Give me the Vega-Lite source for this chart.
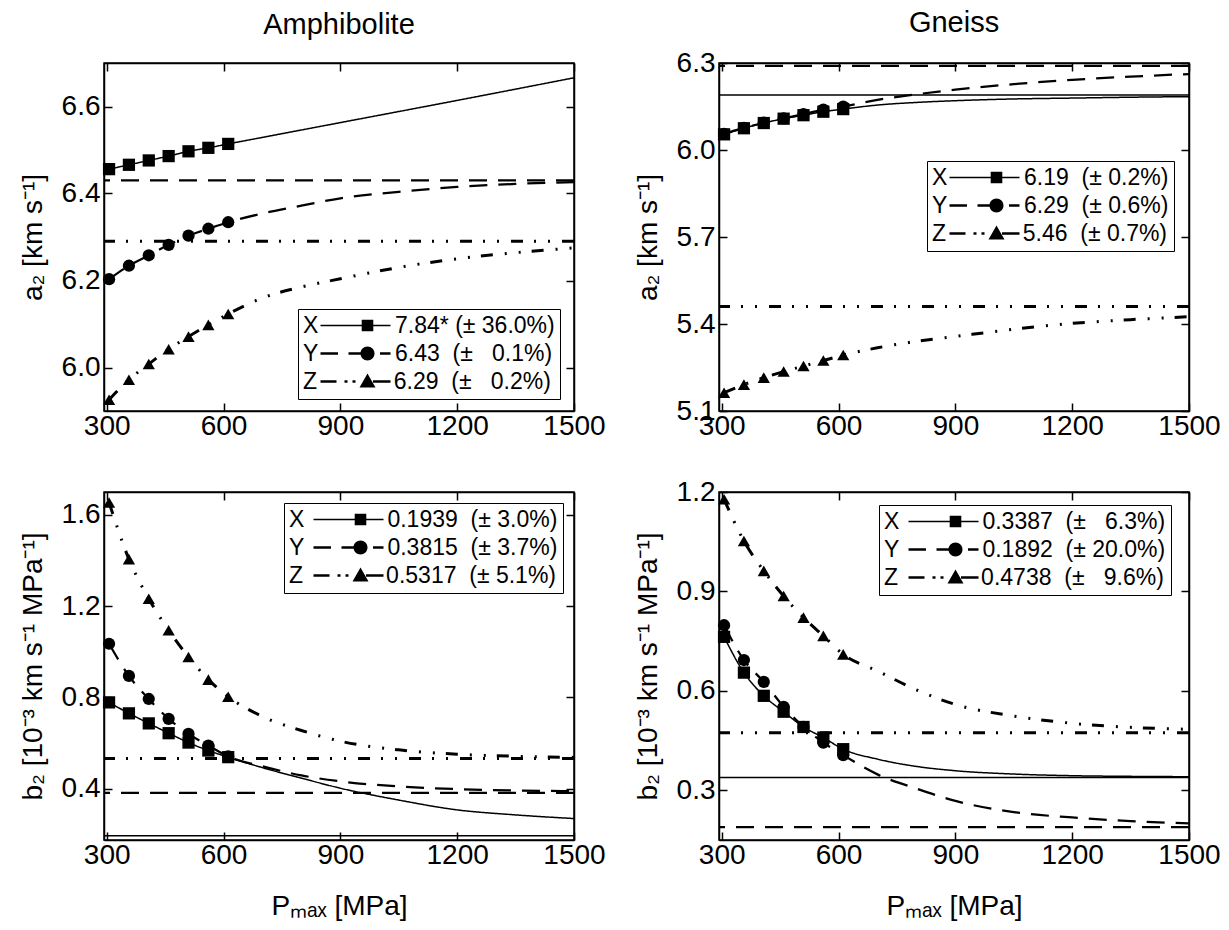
{
  "$schema": "https://vega.github.io/schema/vega-lite/v6.json",
  "background": "white",
  "padding": {"left": 18, "top": 8, "right": 5, "bottom": 5},
  "columns": 2,
  "align": "each",
  "spacing": {"row": 36, "column": 27},
  "resolve": {"scale": {"shape": "independent", "strokeDash": "independent", "strokeWidth": "independent"}, "legend": {"shape": "independent"}},
  "datasets": {
    "asym": [
      {"panel": "amph_a2", "comp": "Y", "v": 6.43},
      {"panel": "amph_a2", "comp": "Z", "v": 6.29},
      {"panel": "gn_a2", "comp": "X", "v": 6.19},
      {"panel": "gn_a2", "comp": "Y", "v": 6.29},
      {"panel": "gn_a2", "comp": "Z", "v": 5.46},
      {"panel": "amph_b2", "comp": "X", "v": 0.1939},
      {"panel": "amph_b2", "comp": "Y", "v": 0.3815},
      {"panel": "amph_b2", "comp": "Z", "v": 0.5317},
      {"panel": "gn_b2", "comp": "X", "v": 0.3387},
      {"panel": "gn_b2", "comp": "Y", "v": 0.1892},
      {"panel": "gn_b2", "comp": "Z", "v": 0.4738}
    ],
    "amph_a2": [
      {"comp": "X", "P": 306, "v": 6.456, "kind": "pt"}, {"comp": "X", "P": 357, "v": 6.466, "kind": "pt"}, {"comp": "X", "P": 408, "v": 6.476, "kind": "pt"}, {"comp": "X", "P": 459, "v": 6.486, "kind": "pt"}, {"comp": "X", "P": 510, "v": 6.497, "kind": "pt"}, {"comp": "X", "P": 561, "v": 6.505, "kind": "pt"}, {"comp": "X", "P": 612, "v": 6.514, "kind": "pt"},
      {"comp": "X", "P": 700, "v": 6.529, "kind": "fit"}, {"comp": "X", "P": 900, "v": 6.563, "kind": "fit"}, {"comp": "X", "P": 1200, "v": 6.614, "kind": "fit"}, {"comp": "X", "P": 1500, "v": 6.666, "kind": "fit"},
      {"comp": "Y", "P": 306, "v": 6.203, "kind": "pt"}, {"comp": "Y", "P": 357, "v": 6.234, "kind": "pt"}, {"comp": "Y", "P": 408, "v": 6.258, "kind": "pt"}, {"comp": "Y", "P": 459, "v": 6.282, "kind": "pt"}, {"comp": "Y", "P": 510, "v": 6.303, "kind": "pt"}, {"comp": "Y", "P": 561, "v": 6.319, "kind": "pt"}, {"comp": "Y", "P": 612, "v": 6.334, "kind": "pt"},
      {"comp": "Y", "P": 700, "v": 6.354, "kind": "fit"}, {"comp": "Y", "P": 800, "v": 6.372, "kind": "fit"}, {"comp": "Y", "P": 900, "v": 6.389, "kind": "fit"}, {"comp": "Y", "P": 1050, "v": 6.404, "kind": "fit"}, {"comp": "Y", "P": 1200, "v": 6.415, "kind": "fit"}, {"comp": "Y", "P": 1350, "v": 6.422, "kind": "fit"}, {"comp": "Y", "P": 1500, "v": 6.426, "kind": "fit"},
      {"comp": "Z", "P": 306, "v": 5.926, "kind": "pt"}, {"comp": "Z", "P": 357, "v": 5.972, "kind": "pt"}, {"comp": "Z", "P": 408, "v": 6.008, "kind": "pt"}, {"comp": "Z", "P": 459, "v": 6.042, "kind": "pt"}, {"comp": "Z", "P": 510, "v": 6.071, "kind": "pt"}, {"comp": "Z", "P": 561, "v": 6.098, "kind": "pt"}, {"comp": "Z", "P": 612, "v": 6.123, "kind": "pt"},
      {"comp": "Z", "P": 700, "v": 6.160, "kind": "fit"}, {"comp": "Z", "P": 800, "v": 6.185, "kind": "fit"}, {"comp": "Z", "P": 900, "v": 6.204, "kind": "fit"}, {"comp": "Z", "P": 1050, "v": 6.230, "kind": "fit"}, {"comp": "Z", "P": 1200, "v": 6.250, "kind": "fit"}, {"comp": "Z", "P": 1350, "v": 6.264, "kind": "fit"}, {"comp": "Z", "P": 1500, "v": 6.275, "kind": "fit"}
    ],
    "gn_a2": [
      {"comp": "X", "P": 306, "v": 6.054, "kind": "pt"}, {"comp": "X", "P": 357, "v": 6.075, "kind": "pt"}, {"comp": "X", "P": 408, "v": 6.093, "kind": "pt"}, {"comp": "X", "P": 459, "v": 6.108, "kind": "pt"}, {"comp": "X", "P": 510, "v": 6.120, "kind": "pt"}, {"comp": "X", "P": 561, "v": 6.132, "kind": "pt"}, {"comp": "X", "P": 612, "v": 6.141, "kind": "pt"},
      {"comp": "X", "P": 700, "v": 6.155, "kind": "fit"}, {"comp": "X", "P": 800, "v": 6.164, "kind": "fit"}, {"comp": "X", "P": 900, "v": 6.170, "kind": "fit"}, {"comp": "X", "P": 1050, "v": 6.176, "kind": "fit"}, {"comp": "X", "P": 1200, "v": 6.179, "kind": "fit"}, {"comp": "X", "P": 1350, "v": 6.182, "kind": "fit"}, {"comp": "X", "P": 1500, "v": 6.184, "kind": "fit"},
      {"comp": "Y", "P": 306, "v": 6.056, "kind": "pt"}, {"comp": "Y", "P": 357, "v": 6.076, "kind": "pt"}, {"comp": "Y", "P": 408, "v": 6.094, "kind": "pt"}, {"comp": "Y", "P": 459, "v": 6.109, "kind": "pt"}, {"comp": "Y", "P": 510, "v": 6.124, "kind": "pt"}, {"comp": "Y", "P": 561, "v": 6.139, "kind": "pt"}, {"comp": "Y", "P": 612, "v": 6.150, "kind": "pt"},
      {"comp": "Y", "P": 700, "v": 6.173, "kind": "fit"}, {"comp": "Y", "P": 800, "v": 6.192, "kind": "fit"}, {"comp": "Y", "P": 900, "v": 6.208, "kind": "fit"}, {"comp": "Y", "P": 1050, "v": 6.227, "kind": "fit"}, {"comp": "Y", "P": 1200, "v": 6.242, "kind": "fit"}, {"comp": "Y", "P": 1350, "v": 6.253, "kind": "fit"}, {"comp": "Y", "P": 1500, "v": 6.262, "kind": "fit"},
      {"comp": "Z", "P": 306, "v": 5.163, "kind": "pt"}, {"comp": "Z", "P": 357, "v": 5.191, "kind": "pt"}, {"comp": "Z", "P": 408, "v": 5.215, "kind": "pt"}, {"comp": "Z", "P": 459, "v": 5.236, "kind": "pt"}, {"comp": "Z", "P": 510, "v": 5.255, "kind": "pt"}, {"comp": "Z", "P": 561, "v": 5.274, "kind": "pt"}, {"comp": "Z", "P": 612, "v": 5.293, "kind": "pt"},
      {"comp": "Z", "P": 700, "v": 5.318, "kind": "fit"}, {"comp": "Z", "P": 800, "v": 5.340, "kind": "fit"}, {"comp": "Z", "P": 900, "v": 5.357, "kind": "fit"}, {"comp": "Z", "P": 1050, "v": 5.382, "kind": "fit"}, {"comp": "Z", "P": 1200, "v": 5.402, "kind": "fit"}, {"comp": "Z", "P": 1350, "v": 5.415, "kind": "fit"}, {"comp": "Z", "P": 1500, "v": 5.425, "kind": "fit"}
    ],
    "amph_b2": [
      {"comp": "X", "P": 306, "v": 0.778, "kind": "pt"}, {"comp": "X", "P": 357, "v": 0.730, "kind": "pt"}, {"comp": "X", "P": 408, "v": 0.686, "kind": "pt"}, {"comp": "X", "P": 459, "v": 0.643, "kind": "pt"}, {"comp": "X", "P": 510, "v": 0.602, "kind": "pt"}, {"comp": "X", "P": 561, "v": 0.567, "kind": "pt"}, {"comp": "X", "P": 612, "v": 0.538, "kind": "pt"},
      {"comp": "X", "P": 700, "v": 0.492, "kind": "fit"}, {"comp": "X", "P": 800, "v": 0.446, "kind": "fit"}, {"comp": "X", "P": 900, "v": 0.402, "kind": "fit"}, {"comp": "X", "P": 1050, "v": 0.350, "kind": "fit"}, {"comp": "X", "P": 1200, "v": 0.307, "kind": "fit"}, {"comp": "X", "P": 1350, "v": 0.285, "kind": "fit"}, {"comp": "X", "P": 1500, "v": 0.269, "kind": "fit"},
      {"comp": "Y", "P": 306, "v": 1.035, "kind": "pt"}, {"comp": "Y", "P": 357, "v": 0.894, "kind": "pt"}, {"comp": "Y", "P": 408, "v": 0.793, "kind": "pt"}, {"comp": "Y", "P": 459, "v": 0.706, "kind": "pt"}, {"comp": "Y", "P": 510, "v": 0.640, "kind": "pt"}, {"comp": "Y", "P": 561, "v": 0.589, "kind": "pt"}, {"comp": "Y", "P": 612, "v": 0.541, "kind": "pt"},
      {"comp": "Y", "P": 700, "v": 0.498, "kind": "fit"}, {"comp": "Y", "P": 800, "v": 0.458, "kind": "fit"}, {"comp": "Y", "P": 900, "v": 0.432, "kind": "fit"}, {"comp": "Y", "P": 1050, "v": 0.410, "kind": "fit"}, {"comp": "Y", "P": 1200, "v": 0.398, "kind": "fit"}, {"comp": "Y", "P": 1350, "v": 0.392, "kind": "fit"}, {"comp": "Y", "P": 1500, "v": 0.389, "kind": "fit"},
      {"comp": "Z", "P": 306, "v": 1.654, "kind": "pt"}, {"comp": "Z", "P": 357, "v": 1.406, "kind": "pt"}, {"comp": "Z", "P": 408, "v": 1.232, "kind": "pt"}, {"comp": "Z", "P": 459, "v": 1.094, "kind": "pt"}, {"comp": "Z", "P": 510, "v": 0.977, "kind": "pt"}, {"comp": "Z", "P": 561, "v": 0.878, "kind": "pt"}, {"comp": "Z", "P": 612, "v": 0.803, "kind": "pt"},
      {"comp": "Z", "P": 700, "v": 0.716, "kind": "fit"}, {"comp": "Z", "P": 800, "v": 0.655, "kind": "fit"}, {"comp": "Z", "P": 900, "v": 0.608, "kind": "fit"}, {"comp": "Z", "P": 1050, "v": 0.570, "kind": "fit"}, {"comp": "Z", "P": 1200, "v": 0.551, "kind": "fit"}, {"comp": "Z", "P": 1350, "v": 0.542, "kind": "fit"}, {"comp": "Z", "P": 1500, "v": 0.537, "kind": "fit"}
    ],
    "gn_b2": [
      {"comp": "X", "P": 306, "v": 0.763, "kind": "pt"}, {"comp": "X", "P": 357, "v": 0.655, "kind": "pt"}, {"comp": "X", "P": 408, "v": 0.585, "kind": "pt"}, {"comp": "X", "P": 459, "v": 0.537, "kind": "pt"}, {"comp": "X", "P": 510, "v": 0.491, "kind": "pt"}, {"comp": "X", "P": 561, "v": 0.459, "kind": "pt"}, {"comp": "X", "P": 612, "v": 0.424, "kind": "pt"},
      {"comp": "X", "P": 700, "v": 0.394, "kind": "fit"}, {"comp": "X", "P": 800, "v": 0.372, "kind": "fit"}, {"comp": "X", "P": 900, "v": 0.359, "kind": "fit"}, {"comp": "X", "P": 1050, "v": 0.349, "kind": "fit"}, {"comp": "X", "P": 1200, "v": 0.344, "kind": "fit"}, {"comp": "X", "P": 1350, "v": 0.342, "kind": "fit"}, {"comp": "X", "P": 1500, "v": 0.341, "kind": "fit"},
      {"comp": "Y", "P": 306, "v": 0.798, "kind": "pt"}, {"comp": "Y", "P": 357, "v": 0.693, "kind": "pt"}, {"comp": "Y", "P": 408, "v": 0.627, "kind": "pt"}, {"comp": "Y", "P": 459, "v": 0.552, "kind": "pt"}, {"comp": "Y", "P": 510, "v": 0.491, "kind": "pt"}, {"comp": "Y", "P": 561, "v": 0.444, "kind": "pt"}, {"comp": "Y", "P": 612, "v": 0.406, "kind": "pt"},
      {"comp": "Y", "P": 700, "v": 0.348, "kind": "fit"}, {"comp": "Y", "P": 800, "v": 0.305, "kind": "fit"}, {"comp": "Y", "P": 900, "v": 0.268, "kind": "fit"}, {"comp": "Y", "P": 1050, "v": 0.234, "kind": "fit"}, {"comp": "Y", "P": 1200, "v": 0.218, "kind": "fit"}, {"comp": "Y", "P": 1350, "v": 0.207, "kind": "fit"}, {"comp": "Y", "P": 1500, "v": 0.200, "kind": "fit"},
      {"comp": "Z", "P": 306, "v": 1.178, "kind": "pt"}, {"comp": "Z", "P": 357, "v": 1.052, "kind": "pt"}, {"comp": "Z", "P": 408, "v": 0.962, "kind": "pt"}, {"comp": "Z", "P": 459, "v": 0.886, "kind": "pt"}, {"comp": "Z", "P": 510, "v": 0.821, "kind": "pt"}, {"comp": "Z", "P": 561, "v": 0.766, "kind": "pt"}, {"comp": "Z", "P": 612, "v": 0.710, "kind": "pt"},
      {"comp": "Z", "P": 700, "v": 0.660, "kind": "fit"}, {"comp": "Z", "P": 800, "v": 0.603, "kind": "fit"}, {"comp": "Z", "P": 900, "v": 0.559, "kind": "fit"}, {"comp": "Z", "P": 1050, "v": 0.524, "kind": "fit"}, {"comp": "Z", "P": 1200, "v": 0.502, "kind": "fit"}, {"comp": "Z", "P": 1350, "v": 0.490, "kind": "fit"}, {"comp": "Z", "P": 1500, "v": 0.484, "kind": "fit"}
    ]
  },
  "concat": [
    {
      "title": {"text": "Amphibolite", "fontSize": 29, "fontWeight": "normal", "frame": "group", "offset": 22, "color": "black"},
      "width": 470, "height": 348,
      "resolve": {"axis": {"x": "independent", "y": "independent"}, "scale": {"shape": "independent"}},
      "layer": [
        {"data": {"name": "asym"}, "transform": [{"filter": "datum.panel == 'amph_a2'"}], "mark": {"type": "rule", "color": "black"},
          "encoding": {
            "y": {"field": "v", "type": "quantitative", "scale": {"domain": [5.9, 6.7], "nice": false, "zero": false}, "axis": null},
            "strokeDash": {"field": "comp", "type": "nominal", "scale": {"domain": ["X", "Y", "Z"], "range": [[1, 0], [18, 11], [12, 12, 2, 12, 2, 11]]}, "legend": null},
            "strokeWidth": {"field": "comp", "type": "ordinal", "scale": {"domain": ["X", "Y", "Z"], "range": [1.5, 3, 3]}, "legend": null}
          }},
        {"data": {"name": "amph_a2"}, "mark": {"type": "line", "color": "black", "interpolate": "monotone"},
          "encoding": {
            "x": {"field": "P", "type": "quantitative", "scale": {"domain": [293, 1500], "nice": false, "zero": false}, "axis": {"orient": "bottom", "values": [300, 600, 900, 1200, 1500], "format": "d", "title": null}},
            "y": {"field": "v", "type": "quantitative", "scale": {"domain": [5.9, 6.7], "nice": false, "zero": false}, "axis": {"orient": "left", "values": [6.0, 6.2, 6.4, 6.6], "format": ".1f", "title": "a₂ [km s⁻¹]"}},
            "strokeDash": {"field": "comp", "type": "nominal", "scale": {"domain": ["X", "Y", "Z"], "range": [[1, 0], [18, 11], [12, 12, 2, 12, 2, 11]]}, "legend": null},
            "strokeWidth": {"field": "comp", "type": "ordinal", "scale": {"domain": ["X", "Y", "Z"], "range": [1.5, 3, 3]}, "legend": null}
          }},
        {"data": {"name": "amph_a2"}, "transform": [{"filter": "datum.kind == 'pt'"}], "mark": {"type": "point", "filled": true, "color": "black", "opacity": 1, "size": 150},
          "encoding": {
            "x": {"field": "P", "type": "quantitative", "scale": {"domain": [293, 1500], "nice": false, "zero": false}, "axis": {"orient": "top", "values": [300, 600, 900, 1200, 1500], "labels": false, "title": null}},
            "y": {"field": "v", "type": "quantitative", "scale": {"domain": [5.9, 6.7], "nice": false, "zero": false}, "axis": {"orient": "right", "values": [6.0, 6.2, 6.4, 6.6], "labels": false, "title": null}},
            "shape": {"field": "comp", "type": "nominal", "scale": {"range": ["square", "circle", "triangle-up"]}, "legend": null}
          }},
        {"data": {"name": "amph_a2"}, "transform": [{"filter": "datum.kind == 'pt'"}], "mark": {"type": "point", "filled": true, "color": "black", "opacity": 0},
          "encoding": {
            "x": {"field": "P", "type": "quantitative", "scale": {"domain": [293, 1500], "nice": false, "zero": false}, "axis": null},
            "y": {"field": "v", "type": "quantitative", "scale": {"domain": [5.9, 6.7], "nice": false, "zero": false}, "axis": null},
            "shape": {"field": "comp", "type": "nominal",
              "scale": {"range": ["M-3.5,-0.075H3.5V0.075H-3.5Z M0.62,-0.58H1.78V0.58H0.62Z", "M-3.5,-0.13H-1.75V0.13H-3.5Z M-0.7,-0.13H0.7V0.13H-0.7Z M0.5,0A0.7,0.7 0 1,1 1.9,0A0.7,0.7 0 1,1 0.5,0Z M2.45,-0.13H3.5V0.13H2.45Z", "M-3.5,-0.13H-1.9V0.13H-3.5Z M-1.1,-0.13H-0.8V0.13H-1.1Z M-0.3,-0.13H0V0.13H-0.3Z M1.2,-0.8L2,0.6L0.4,0.6Z M1.75,-0.13H3.5V0.13H1.75Z"]},
              "legend": {"orient": "none", "legendX": 194, "legendY": 246, "title": null, "padding": 5, "rowPadding": 4, "strokeColor": "black", "fillColor": "white",
                "labelFontSize": 23, "labelLimit": 0, "labelOffset": -64, "symbolOffset": 41, "symbolSize": 400, "symbolStrokeWidth": 0, "symbolOpacity": 1, "symbolFillColor": "black",
                "labelExpr": "datum.label == 'X' ? 'X\u00a0\u00a0\u00a0\u00a0\u00a0\u00a0\u00a0\u00a0\u00a0\u00a0\u00a0\u00a07.84*\u00a0(±\u00a036.0%)' : datum.label == 'Y' ? 'Y\u00a0\u00a0\u00a0\u00a0\u00a0\u00a0\u00a0\u00a0\u00a0\u00a0\u00a0\u00a06.43\u00a0\u00a0(±\u00a0\u20070.1%)' : 'Z\u00a0\u00a0\u00a0\u00a0\u00a0\u00a0\u00a0\u00a0\u00a0\u00a0\u00a0\u00a06.29\u00a0\u00a0(±\u00a0\u20070.2%)'"}}
          }}
      ]
    },
    {
      "title": {"text": "Gneiss", "fontSize": 29, "fontWeight": "normal", "frame": "group", "offset": 11, "color": "black"},
      "width": 470, "height": 348,
      "resolve": {"axis": {"x": "independent", "y": "independent"}, "scale": {"shape": "independent"}},
      "layer": [
        {"data": {"name": "asym"}, "transform": [{"filter": "datum.panel == 'gn_a2'"}], "mark": {"type": "rule", "color": "black"},
          "encoding": {
            "y": {"field": "v", "type": "quantitative", "scale": {"domain": [5.1, 6.3], "nice": false, "zero": false}, "axis": null},
            "strokeDash": {"field": "comp", "type": "nominal", "scale": {"domain": ["X", "Y", "Z"], "range": [[1, 0], [18, 11], [12, 12, 2, 12, 2, 11]]}, "legend": null},
            "strokeWidth": {"field": "comp", "type": "ordinal", "scale": {"domain": ["X", "Y", "Z"], "range": [1.5, 3, 3]}, "legend": null}
          }},
        {"data": {"name": "gn_a2"}, "mark": {"type": "line", "color": "black", "interpolate": "monotone"},
          "encoding": {
            "x": {"field": "P", "type": "quantitative", "scale": {"domain": [293, 1500], "nice": false, "zero": false}, "axis": {"orient": "bottom", "values": [300, 600, 900, 1200, 1500], "format": "d", "title": null}},
            "y": {"field": "v", "type": "quantitative", "scale": {"domain": [5.1, 6.3], "nice": false, "zero": false}, "axis": {"orient": "left", "values": [5.1, 5.4, 5.7, 6.0, 6.3], "format": ".1f", "title": "a₂ [km s⁻¹]"}},
            "strokeDash": {"field": "comp", "type": "nominal", "scale": {"domain": ["X", "Y", "Z"], "range": [[1, 0], [18, 11], [12, 12, 2, 12, 2, 11]]}, "legend": null},
            "strokeWidth": {"field": "comp", "type": "ordinal", "scale": {"domain": ["X", "Y", "Z"], "range": [1.5, 3, 3]}, "legend": null}
          }},
        {"data": {"name": "gn_a2"}, "transform": [{"filter": "datum.kind == 'pt'"}], "mark": {"type": "point", "filled": true, "color": "black", "opacity": 1, "size": 150},
          "encoding": {
            "x": {"field": "P", "type": "quantitative", "scale": {"domain": [293, 1500], "nice": false, "zero": false}, "axis": {"orient": "top", "values": [300, 600, 900, 1200, 1500], "labels": false, "title": null}},
            "y": {"field": "v", "type": "quantitative", "scale": {"domain": [5.1, 6.3], "nice": false, "zero": false}, "axis": {"orient": "right", "values": [5.1, 5.4, 5.7, 6.0, 6.3], "labels": false, "title": null}},
            "shape": {"field": "comp", "type": "nominal", "scale": {"range": ["square", "circle", "triangle-up"]}, "legend": null}
          }},
        {"data": {"name": "gn_a2"}, "transform": [{"filter": "datum.kind == 'pt'"}], "mark": {"type": "point", "filled": true, "color": "black", "opacity": 0},
          "encoding": {
            "x": {"field": "P", "type": "quantitative", "scale": {"domain": [293, 1500], "nice": false, "zero": false}, "axis": null},
            "y": {"field": "v", "type": "quantitative", "scale": {"domain": [5.1, 6.3], "nice": false, "zero": false}, "axis": null},
            "shape": {"field": "comp", "type": "nominal",
              "scale": {"range": ["M-3.5,-0.075H3.5V0.075H-3.5Z M0.62,-0.58H1.78V0.58H0.62Z", "M-3.5,-0.13H-1.75V0.13H-3.5Z M-0.7,-0.13H0.7V0.13H-0.7Z M0.5,0A0.7,0.7 0 1,1 1.9,0A0.7,0.7 0 1,1 0.5,0Z M2.45,-0.13H3.5V0.13H2.45Z", "M-3.5,-0.13H-1.9V0.13H-3.5Z M-1.1,-0.13H-0.8V0.13H-1.1Z M-0.3,-0.13H0V0.13H-0.3Z M1.2,-0.8L2,0.6L0.4,0.6Z M1.75,-0.13H3.5V0.13H1.75Z"]},
              "legend": {"orient": "none", "legendX": 208, "legendY": 98, "title": null, "padding": 5, "rowPadding": 4, "strokeColor": "black", "fillColor": "white",
                "labelFontSize": 23, "labelLimit": 0, "labelOffset": -64, "symbolOffset": 41, "symbolSize": 400, "symbolStrokeWidth": 0, "symbolOpacity": 1, "symbolFillColor": "black",
                "labelExpr": "datum.label == 'X' ? 'X\u00a0\u00a0\u00a0\u00a0\u00a0\u00a0\u00a0\u00a0\u00a0\u00a0\u00a0\u00a06.19\u00a0\u00a0(±\u00a00.2%)' : datum.label == 'Y' ? 'Y\u00a0\u00a0\u00a0\u00a0\u00a0\u00a0\u00a0\u00a0\u00a0\u00a0\u00a0\u00a06.29\u00a0\u00a0(±\u00a00.6%)' : 'Z\u00a0\u00a0\u00a0\u00a0\u00a0\u00a0\u00a0\u00a0\u00a0\u00a0\u00a0\u00a05.46\u00a0\u00a0(±\u00a00.7%)'"}}
          }}
      ]
    },
    {
      "width": 470, "height": 348,
      "resolve": {"axis": {"x": "independent", "y": "independent"}, "scale": {"shape": "independent"}},
      "layer": [
        {"data": {"name": "asym"}, "transform": [{"filter": "datum.panel == 'amph_b2'"}], "mark": {"type": "rule", "color": "black"},
          "encoding": {
            "y": {"field": "v", "type": "quantitative", "scale": {"domain": [0.175, 1.7], "nice": false, "zero": false}, "axis": null},
            "strokeDash": {"field": "comp", "type": "nominal", "scale": {"domain": ["X", "Y", "Z"], "range": [[1, 0], [18, 11], [12, 12, 2, 12, 2, 11]]}, "legend": null},
            "strokeWidth": {"field": "comp", "type": "ordinal", "scale": {"domain": ["X", "Y", "Z"], "range": [1.5, 3, 3]}, "legend": null}
          }},
        {"data": {"name": "amph_b2"}, "mark": {"type": "line", "color": "black", "interpolate": "monotone"},
          "encoding": {
            "x": {"field": "P", "type": "quantitative", "scale": {"domain": [293, 1500], "nice": false, "zero": false}, "axis": {"orient": "bottom", "values": [300, 600, 900, 1200, 1500], "format": "d", "title": "Pₘₐₓ [MPa]"}},
            "y": {"field": "v", "type": "quantitative", "scale": {"domain": [0.175, 1.7], "nice": false, "zero": false}, "axis": {"orient": "left", "values": [0.4, 0.8, 1.2, 1.6], "format": ".1f", "title": "b₂ [10⁻³ km s⁻¹ MPa⁻¹]"}},
            "strokeDash": {"field": "comp", "type": "nominal", "scale": {"domain": ["X", "Y", "Z"], "range": [[1, 0], [18, 11], [12, 12, 2, 12, 2, 11]]}, "legend": null},
            "strokeWidth": {"field": "comp", "type": "ordinal", "scale": {"domain": ["X", "Y", "Z"], "range": [1.5, 3, 3]}, "legend": null}
          }},
        {"data": {"name": "amph_b2"}, "transform": [{"filter": "datum.kind == 'pt'"}], "mark": {"type": "point", "filled": true, "color": "black", "opacity": 1, "size": 150},
          "encoding": {
            "x": {"field": "P", "type": "quantitative", "scale": {"domain": [293, 1500], "nice": false, "zero": false}, "axis": {"orient": "top", "values": [300, 600, 900, 1200, 1500], "labels": false, "title": null}},
            "y": {"field": "v", "type": "quantitative", "scale": {"domain": [0.175, 1.7], "nice": false, "zero": false}, "axis": {"orient": "right", "values": [0.4, 0.8, 1.2, 1.6], "labels": false, "title": null}},
            "shape": {"field": "comp", "type": "nominal", "scale": {"range": ["square", "circle", "triangle-up"]}, "legend": null}
          }},
        {"data": {"name": "amph_b2"}, "transform": [{"filter": "datum.kind == 'pt'"}], "mark": {"type": "point", "filled": true, "color": "black", "opacity": 0},
          "encoding": {
            "x": {"field": "P", "type": "quantitative", "scale": {"domain": [293, 1500], "nice": false, "zero": false}, "axis": null},
            "y": {"field": "v", "type": "quantitative", "scale": {"domain": [0.175, 1.7], "nice": false, "zero": false}, "axis": null},
            "shape": {"field": "comp", "type": "nominal",
              "scale": {"range": ["M-3.5,-0.075H3.5V0.075H-3.5Z M0.62,-0.58H1.78V0.58H0.62Z", "M-3.5,-0.13H-1.75V0.13H-3.5Z M-0.7,-0.13H0.7V0.13H-0.7Z M0.5,0A0.7,0.7 0 1,1 1.9,0A0.7,0.7 0 1,1 0.5,0Z M2.45,-0.13H3.5V0.13H2.45Z", "M-3.5,-0.13H-1.9V0.13H-3.5Z M-1.1,-0.13H-0.8V0.13H-1.1Z M-0.3,-0.13H0V0.13H-0.3Z M1.2,-0.8L2,0.6L0.4,0.6Z M1.75,-0.13H3.5V0.13H1.75Z"]},
              "legend": {"orient": "none", "legendX": 180, "legendY": 11, "title": null, "padding": 5, "rowPadding": 4, "strokeColor": "black", "fillColor": "white",
                "labelFontSize": 23, "labelLimit": 0, "labelOffset": -71, "symbolOffset": 48, "symbolSize": 400, "symbolStrokeWidth": 0, "symbolOpacity": 1, "symbolFillColor": "black",
                "labelExpr": "datum.label == 'X' ? 'X\u00a0\u00a0\u00a0\u00a0\u00a0\u00a0\u00a0\u00a0\u00a0\u00a0\u00a0\u00a0\u00a00.1939\u00a0\u00a0(±\u00a03.0%)' : datum.label == 'Y' ? 'Y\u00a0\u00a0\u00a0\u00a0\u00a0\u00a0\u00a0\u00a0\u00a0\u00a0\u00a0\u00a0\u00a00.3815\u00a0\u00a0(±\u00a03.7%)' : 'Z\u00a0\u00a0\u00a0\u00a0\u00a0\u00a0\u00a0\u00a0\u00a0\u00a0\u00a0\u00a0\u00a00.5317\u00a0\u00a0(±\u00a05.1%)'"}}
          }}
      ]
    },
    {
      "width": 470, "height": 348,
      "resolve": {"axis": {"x": "independent", "y": "independent"}, "scale": {"shape": "independent"}},
      "layer": [
        {"data": {"name": "asym"}, "transform": [{"filter": "datum.panel == 'gn_b2'"}], "mark": {"type": "rule", "color": "black"},
          "encoding": {
            "y": {"field": "v", "type": "quantitative", "scale": {"domain": [0.15, 1.2], "nice": false, "zero": false}, "axis": null},
            "strokeDash": {"field": "comp", "type": "nominal", "scale": {"domain": ["X", "Y", "Z"], "range": [[1, 0], [18, 11], [12, 12, 2, 12, 2, 11]]}, "legend": null},
            "strokeWidth": {"field": "comp", "type": "ordinal", "scale": {"domain": ["X", "Y", "Z"], "range": [1.5, 3, 3]}, "legend": null}
          }},
        {"data": {"name": "gn_b2"}, "mark": {"type": "line", "color": "black", "interpolate": "monotone"},
          "encoding": {
            "x": {"field": "P", "type": "quantitative", "scale": {"domain": [293, 1500], "nice": false, "zero": false}, "axis": {"orient": "bottom", "values": [300, 600, 900, 1200, 1500], "format": "d", "title": "Pₘₐₓ [MPa]"}},
            "y": {"field": "v", "type": "quantitative", "scale": {"domain": [0.15, 1.2], "nice": false, "zero": false}, "axis": {"orient": "left", "values": [0.3, 0.6, 0.9, 1.2], "format": ".1f", "title": "b₂ [10⁻³ km s⁻¹ MPa⁻¹]"}},
            "strokeDash": {"field": "comp", "type": "nominal", "scale": {"domain": ["X", "Y", "Z"], "range": [[1, 0], [18, 11], [12, 12, 2, 12, 2, 11]]}, "legend": null},
            "strokeWidth": {"field": "comp", "type": "ordinal", "scale": {"domain": ["X", "Y", "Z"], "range": [1.5, 3, 3]}, "legend": null}
          }},
        {"data": {"name": "gn_b2"}, "transform": [{"filter": "datum.kind == 'pt'"}], "mark": {"type": "point", "filled": true, "color": "black", "opacity": 1, "size": 150},
          "encoding": {
            "x": {"field": "P", "type": "quantitative", "scale": {"domain": [293, 1500], "nice": false, "zero": false}, "axis": {"orient": "top", "values": [300, 600, 900, 1200, 1500], "labels": false, "title": null}},
            "y": {"field": "v", "type": "quantitative", "scale": {"domain": [0.15, 1.2], "nice": false, "zero": false}, "axis": {"orient": "right", "values": [0.3, 0.6, 0.9, 1.2], "labels": false, "title": null}},
            "shape": {"field": "comp", "type": "nominal", "scale": {"range": ["square", "circle", "triangle-up"]}, "legend": null}
          }},
        {"data": {"name": "gn_b2"}, "transform": [{"filter": "datum.kind == 'pt'"}], "mark": {"type": "point", "filled": true, "color": "black", "opacity": 0},
          "encoding": {
            "x": {"field": "P", "type": "quantitative", "scale": {"domain": [293, 1500], "nice": false, "zero": false}, "axis": null},
            "y": {"field": "v", "type": "quantitative", "scale": {"domain": [0.15, 1.2], "nice": false, "zero": false}, "axis": null},
            "shape": {"field": "comp", "type": "nominal",
              "scale": {"range": ["M-3.5,-0.075H3.5V0.075H-3.5Z M0.62,-0.58H1.78V0.58H0.62Z", "M-3.5,-0.13H-1.75V0.13H-3.5Z M-0.7,-0.13H0.7V0.13H-0.7Z M0.5,0A0.7,0.7 0 1,1 1.9,0A0.7,0.7 0 1,1 0.5,0Z M2.45,-0.13H3.5V0.13H2.45Z", "M-3.5,-0.13H-1.9V0.13H-3.5Z M-1.1,-0.13H-0.8V0.13H-1.1Z M-0.3,-0.13H0V0.13H-0.3Z M1.2,-0.8L2,0.6L0.4,0.6Z M1.75,-0.13H3.5V0.13H1.75Z"]},
              "legend": {"orient": "none", "legendX": 160, "legendY": 13, "title": null, "padding": 5, "rowPadding": 4, "strokeColor": "black", "fillColor": "white",
                "labelFontSize": 23, "labelLimit": 0, "labelOffset": -71, "symbolOffset": 48, "symbolSize": 400, "symbolStrokeWidth": 0, "symbolOpacity": 1, "symbolFillColor": "black",
                "labelExpr": "datum.label == 'X' ? 'X\u00a0\u00a0\u00a0\u00a0\u00a0\u00a0\u00a0\u00a0\u00a0\u00a0\u00a0\u00a0\u00a00.3387\u00a0\u00a0(±\u00a0\u20076.3%)' : datum.label == 'Y' ? 'Y\u00a0\u00a0\u00a0\u00a0\u00a0\u00a0\u00a0\u00a0\u00a0\u00a0\u00a0\u00a0\u00a00.1892\u00a0\u00a0(±\u00a020.0%)' : 'Z\u00a0\u00a0\u00a0\u00a0\u00a0\u00a0\u00a0\u00a0\u00a0\u00a0\u00a0\u00a0\u00a00.4738\u00a0\u00a0(±\u00a0\u20079.6%)'"}}
          }}
      ]
    }
  ],
  "config": {
    "font": "Liberation Sans",
    "view": {"stroke": "black", "strokeWidth": 1.5},
    "axis": {"labelFont": "Liberation Sans", "labelFontSize": 28, "labelColor": "black", "titleFont": "Liberation Sans", "titleFontSize": 28, "titleFontWeight": "normal", "titleColor": "black",
      "tickColor": "black", "tickSize": -8, "tickWidth": 1.5, "domainColor": "black", "domainWidth": 1.5, "grid": false, "labelFlush": false, "labelOverlap": false, "labelPadding": 12, "titlePadding": 14},
    "axisX": {"labelPadding": 9, "titlePadding": 23},
    "legend": {"labelFont": "Liberation Sans", "labelColor": "black"},
    "title": {"font": "Liberation Sans"}
  }
}
